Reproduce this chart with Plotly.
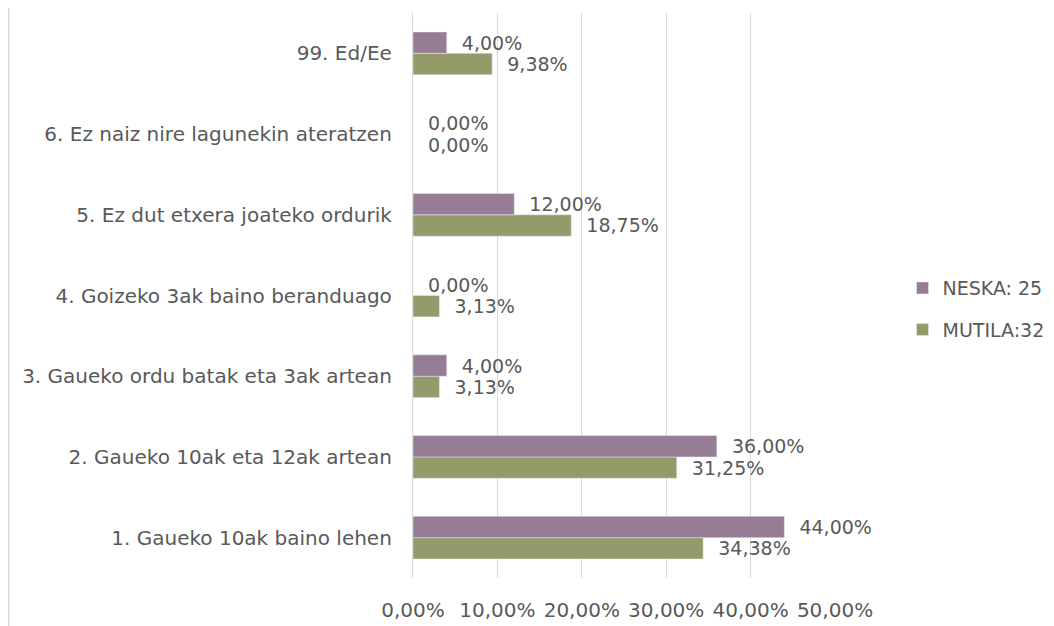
import plotly.graph_objects as go

# ----------------------------
# Data
# ----------------------------
categories = [
    "1. Gaueko 10ak baino lehen",
    "2. Gaueko 10ak eta 12ak artean",
    "3. Gaueko ordu batak eta 3ak artean",
    "4. Goizeko 3ak baino beranduago",
    "5. Ez dut etxera joateko ordurik",
    "6. Ez naiz nire lagunekin ateratzen",
    "99. Ed/Ee",
]
neska = [0.44, 0.36, 0.04, 0.00, 0.12, 0.00, 0.04]
mutila = [0.3438, 0.3125, 0.0313, 0.0313, 0.1875, 0.00, 0.0938]
x_ticks = [0, 0.1, 0.2, 0.3, 0.4, 0.5]

FONT = "DejaVu Sans"
TEXT = "#595959"
GRID = "#d9d9d9"

fig = go.Figure()

# MUTILA first so it sits at the bottom of each group
fig.add_trace(go.Bar(
    y=categories, x=mutila, orientation="h", name="MUTILA:32",
    marker=dict(color="#949a6a"),
    texttemplate="  %{x:.2%}", textposition="outside",
    textfont=dict(size=19, color=TEXT, family=FONT),
    constraintext="none", cliponaxis=False,
    legendgroup="m", legendrank=2,
))
fig.add_trace(go.Bar(
    y=categories, x=neska, orientation="h", name="NESKA: 25",
    marker=dict(color="#977c95"),
    texttemplate="  %{x:.2%}", textposition="outside",
    textfont=dict(size=19, color=TEXT, family=FONT),
    constraintext="none", cliponaxis=False,
    legendgroup="n", legendrank=1,
))

# page body has an 8px margin, so the figure is a bit smaller than the window
fig.update_layout(
    barmode="group",
    bargap=0.47,
    bargroupgap=0,
    separators=",.",
    width=1046, height=618,
    margin=dict(l=405, r=215, t=5, b=48),
    paper_bgcolor="white", plot_bgcolor="white",
    font=dict(family=FONT, size=19, color=TEXT),
    xaxis=dict(
        range=[0, 0.5], tickvals=x_ticks, tickformat=".2%",
        showgrid=True, gridcolor=GRID, gridwidth=1.3,
        zeroline=False, showline=False,
        ticklabelstandoff=18,
        tickfont=dict(size=20),
    ),
    yaxis=dict(
        showgrid=False, zeroline=False,
        showline=True, linecolor=GRID, linewidth=1.3,
        ticklabelstandoff=16,
        tickfont=dict(size=20),
    ),
    legend=dict(
        x=1.16, y=0.476, xanchor="left", yanchor="middle",
        traceorder="grouped", tracegroupgap=14,
        font=dict(size=19),
    ),
)

# chart border on the left
fig.add_shape(type="line", xref="paper", yref="paper",
              x0=-0.958, x1=-0.958, y0=-0.085, y1=1.023,
              line=dict(color=GRID, width=1.5))

fig.write_html("out.html")
